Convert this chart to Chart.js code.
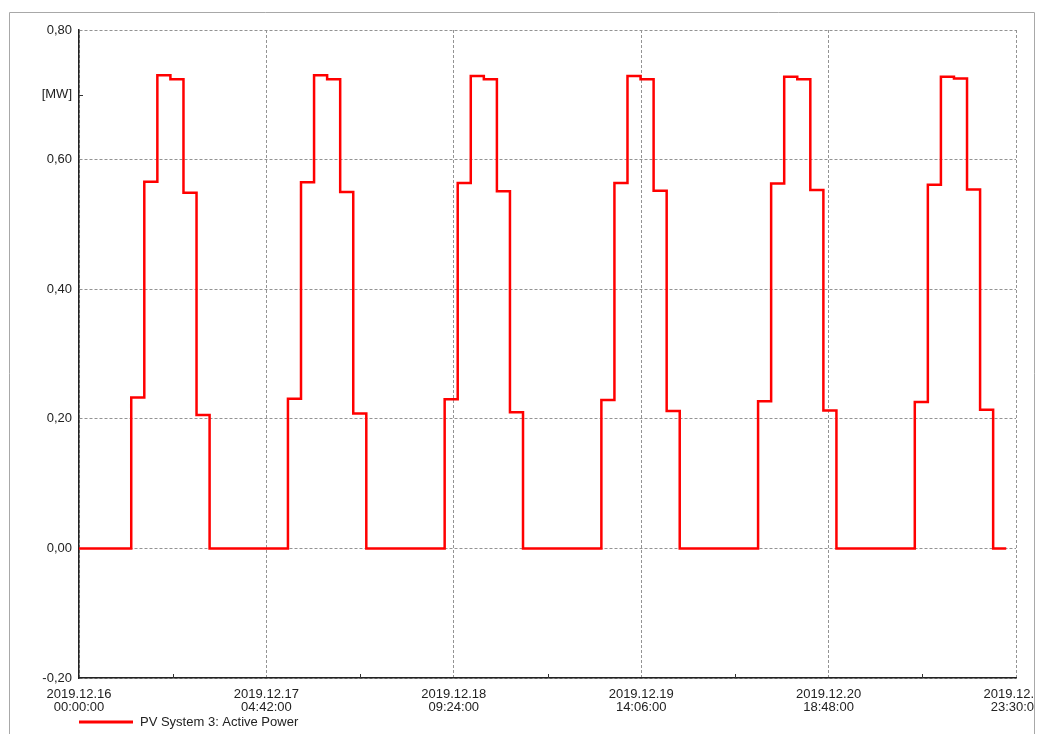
<!DOCTYPE html>
<html>
<head>
<meta charset="utf-8">
<script src="https://cdn.jsdelivr.net/npm/chart.js@4.4.1/dist/chart.umd.min.js"></script>
<style>
  html, body { margin: 0; padding: 0; background: #fff; }
  #wrap { position: relative; width: 1042px; height: 734px; }
</style>
</head>
<body>
<div id="wrap"><canvas id="pvChart" width="1042" height="734"></canvas></div>
<script>
// sample times in hours since 2019.12.16 00:00 (2 h steps)
const hours = [
  0, 2, 4, 6, 8, 10, 12, 14, 16, 18, 20, 22,
  24, 26, 28, 30, 32, 34, 36, 38, 40, 42, 44, 46,
  48, 50, 52, 54, 56, 58, 60, 62, 64, 66, 68, 70,
  72, 74, 76, 78, 80, 82, 84, 86, 88, 90, 92, 94,
  96, 98, 100, 102, 104, 106, 108, 110, 112, 114, 116, 118,
  120, 122, 124, 126, 128, 130, 132, 134, 136, 138, 140, 142
];

// PV System 3: Active Power [MW]
const activePower = [
  0, 0, 0, 0, 0.233, 0.566, 0.730, 0.724, 0.549, 0.206, 0, 0,
  0, 0, 0, 0, 0.231, 0.565, 0.730, 0.724, 0.550, 0.208, 0, 0,
  0, 0, 0, 0, 0.230, 0.564, 0.729, 0.724, 0.551, 0.210, 0, 0,
  0, 0, 0, 0, 0.229, 0.564, 0.729, 0.724, 0.552, 0.212, 0, 0,
  0, 0, 0, 0, 0.227, 0.563, 0.728, 0.724, 0.553, 0.213, 0, 0,
  0, 0, 0, 0, 0.226, 0.561, 0.728, 0.725, 0.554, 0.214, 0, 0
];

// x axis ticks (hours) and their labels
const xTicks = [0, 28.7, 57.4, 86.1, 114.8, 143.5];
const xTickLabels = [
  ['2019.12.16', '00:00:00'],
  ['2019.12.17', '04:42:00'],
  ['2019.12.18', '09:24:00'],
  ['2019.12.19', '14:06:00'],
  ['2019.12.20', '18:48:00'],
  ['2019.12.21', '23:30:00']
];
const xMinorTicks = [14.35, 43.05, 71.75, 100.45, 129.15];

const yTicks = [-0.2, 0, 0.2, 0.4, 0.6, 0.7, 0.8];
const yUnit = '[MW]';
const yUnitAt = 0.7;

const seriesName = 'PV System 3: Active Power';

const FONT = 'Liberation Sans, Arial, sans-serif';
const GRID = '#939393';
const TEXT = '#222';

// extras: minor ticks, legend, outer frame
const extras = {
  id: 'extras',
  afterDraw(chart) {
    const ctx = chart.ctx;
    const xs = chart.scales.x, ys = chart.scales.y;
    const area = chart.chartArea;
    ctx.save();
    ctx.strokeStyle = '#333';
    ctx.lineWidth = 1;
    ctx.beginPath();
    xMinorTicks.forEach(v => {
      const px = Math.round(xs.getPixelForValue(v)) + 0.5;
      ctx.moveTo(px, area.bottom);
      ctx.lineTo(px, area.bottom - 4);
    });
    const py = Math.round(ys.getPixelForValue(yUnitAt)) + 0.5;
    ctx.moveTo(area.left, py);
    ctx.lineTo(area.left + 4, py);
    ctx.stroke();

    // legend
    const ly = 722;
    ctx.strokeStyle = '#ff0000';
    ctx.lineWidth = 3;
    ctx.beginPath();
    ctx.moveTo(area.left, ly);
    ctx.lineTo(area.left + 54, ly);
    ctx.stroke();
    ctx.fillStyle = TEXT;
    ctx.font = '13px ' + FONT;
    ctx.textBaseline = 'middle';
    ctx.textAlign = 'left';
    ctx.fillText(seriesName, area.left + 61, ly);

    // outer frame, clipping anything past it
    ctx.fillStyle = '#fff';
    ctx.fillRect(1035, 0, 10, chart.height);
    ctx.fillRect(0, 0, 9, chart.height);
    ctx.strokeStyle = '#a8a8a8';
    ctx.lineWidth = 1;
    ctx.beginPath();
    ctx.moveTo(9.5, chart.height + 2);
    ctx.lineTo(9.5, 12.5);
    ctx.lineTo(1034.5, 12.5);
    ctx.lineTo(1034.5, chart.height + 2);
    ctx.stroke();
    ctx.restore();
  }
};

new Chart(document.getElementById('pvChart').getContext('2d'), {
  type: 'line',
  data: {
    datasets: [{
      label: seriesName,
      data: hours.map((h, i) => ({ x: h, y: activePower[i] })),
      borderColor: '#ff0000',
      borderWidth: 2.5,
      stepped: 'before',
      pointRadius: 0,
      fill: false
    }]
  },
  options: {
    responsive: false,
    animation: false,
    layout: { padding: { left: 0, right: 26, top: 30, bottom: 0 } },
    plugins: {
      legend: { display: false },
      tooltip: { enabled: false }
    },
    scales: {
      x: {
        type: 'linear',
        min: 0,
        max: 143.5,
        afterBuildTicks: s => { s.ticks = xTicks.map(v => ({ value: v })); },
        afterFit: s => { s.height = 56; s.paddingLeft = 0; s.paddingRight = 0; },
        ticks: {
          autoSkip: false,
          maxRotation: 0,
          padding: 10,
          color: TEXT,
          font: { family: FONT, size: 13, lineHeight: 1.0 },
          callback: (v, i) => xTickLabels[i]
        },
        grid: { color: GRID, lineWidth: 1, drawTicks: false },
        border: { color: '#222', width: 1.5, dash: [3, 2] }
      },
      y: {
        min: -0.2,
        max: 0.8,
        afterBuildTicks: s => { s.ticks = yTicks.map(v => ({ value: v })); },
        afterFit: s => { s.width = 79; s.paddingTop = 0; s.paddingBottom = 0; },
        ticks: {
          padding: 7,
          color: TEXT,
          font: { family: FONT, size: 13 },
          callback: v => Math.abs(v - yUnitAt) < 1e-9 ? yUnit : v.toFixed(2).replace('.', ',')
        },
        grid: {
          drawTicks: false,
          lineWidth: 1,
          color: c => (c.tick && Math.abs(c.tick.value - yUnitAt) < 1e-9) ? 'rgba(0,0,0,0)' : GRID
        },
        border: { color: '#222', width: 1.5, dash: [3, 2] }
      }
    }
  },
  plugins: [extras]
});
</script>
</body>
</html>
